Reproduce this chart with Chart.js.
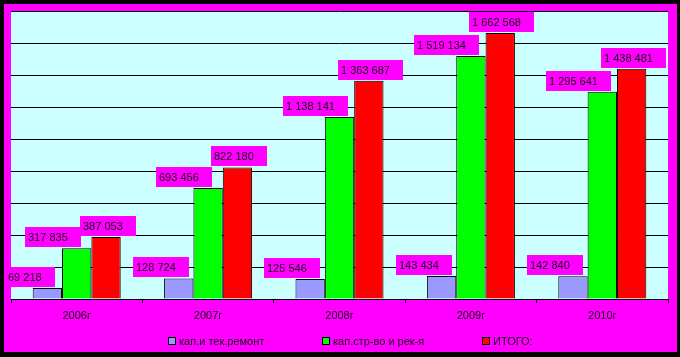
<!DOCTYPE html>
<html>
<head>
<meta charset="utf-8">
<script src="https://cdn.jsdelivr.net/npm/chart.js@4/dist/chart.umd.min.js"></script>
<style>
  html, body { margin: 0; padding: 0; background: #000; }
  #wrap { width: 680px; height: 357px; }
</style>
</head>
<body>
<div id="wrap"><canvas id="c" width="680" height="357"></canvas></div>
<script>
const categories = ["2006г", "2007г", "2008г", "2009г", "2010г"];
const seriesNames = ["кап.и тек.ремонт", "кап.стр-во и рек-я", "ИТОГО:"];
const repairValues = [69218, 128724, 125546, 143434, 142840];
const constructionValues = [317835, 693456, 1138141, 1519134, 1295641];
const totalValues = [387053, 822180, 1363687, 1662568, 1438481];
const yMax = 1800000;
const yStep = 200000;

const colors = ["#9999FF", "#00FF00", "#FF0000"];
const labelShift = [-18, -24, 1.5];
const FONT = "11px 'Liberation Sans', Arial, sans-serif";

function fmt(v) {
  return String(v).replace(/\B(?=(\d{3})+(?!\d))/g, " ");
}

const framePlugin = {
  id: "frame",
  beforeDraw(chart) {
    const ctx = chart.ctx, a = chart.chartArea;
    ctx.save();
    ctx.fillStyle = "#000000";
    ctx.fillRect(0, 0, chart.width, chart.height);
    ctx.fillStyle = "#FF00FF";
    ctx.fillRect(4, 4, 673, 348);
    ctx.fillStyle = "#CCFFFF";
    ctx.fillRect(a.left, a.top, a.right - a.left, a.bottom - a.top);
    ctx.restore();
  }
};

const labelPlugin = {
  id: "boxLabels",
  afterDatasetsDraw(chart) {
    const ctx = chart.ctx;
    ctx.save();
    ctx.font = FONT;
    chart.data.datasets.forEach((ds, di) => {
      const meta = chart.getDatasetMeta(di);
      meta.data.forEach((bar, i) => {
        const txt = fmt(ds.data[i]);
        const w = ctx.measureText(txt).width + 16;
        const h = 20;
        const cx = bar.x + labelShift[di];
        const left = Math.round(cx - w / 2);
        const top = Math.round(bar.y - 1 - h);
        ctx.fillStyle = "#FF00FF";
        ctx.fillRect(left, top, Math.round(w), h);
        ctx.fillStyle = "#111111";
        ctx.textBaseline = "middle";
        ctx.textAlign = "left";
        ctx.fillText(txt, left + 3, top + h / 2 + 1);
      });
    });
    ctx.restore();
  }
};

const legendPlugin = {
  id: "customLegend",
  afterDraw(chart) {
    const ctx = chart.ctx, a = chart.chartArea;
    ctx.save();
    ctx.font = FONT;
    const box = 7, gapText = 4, gapItem = 58;
    const widths = seriesNames.map(n => box + gapText + ctx.measureText(n).width);
    const total = widths.reduce((s, w) => s + w, 0) + gapItem * (widths.length - 1);
    let x = (a.left + a.right) / 2 + 11 - total / 2;
    const y = 337;
    seriesNames.forEach((n, i) => {
      ctx.fillStyle = colors[i];
      ctx.fillRect(Math.round(x) + 0.5, y + 0.5, box, box);
      ctx.strokeStyle = "#000";
      ctx.lineWidth = 1;
      ctx.strokeRect(Math.round(x) + 0.5, y + 0.5, box, box);
      ctx.fillStyle = "#111111";
      ctx.textBaseline = "middle";
      ctx.textAlign = "left";
      ctx.fillText(n, Math.round(x) + box + gapText, y + 4.5);
      x += widths[i] + gapItem;
    });
    ctx.restore();
  }
};

const seriesData = [repairValues, constructionValues, totalValues];

new Chart(document.getElementById("c"), {
  type: "bar",
  data: {
    labels: categories,
    datasets: seriesNames.map((n, i) => ({
      label: n,
      data: seriesData[i],
      backgroundColor: colors[i],
      borderColor: "#000000",
      borderWidth: 1,
      borderSkipped: "bottom",
      categoryPercentage: 0.67,
      barPercentage: 1.0
    }))
  },
  options: {
    responsive: false,
    animation: false,
    devicePixelRatio: 1,
    layout: { padding: { left: 11, top: 11, right: 12, bottom: 0 } },
    plugins: {
      legend: { display: false },
      tooltip: { enabled: false }
    },
    scales: {
      x: {
        offset: true,
        grid: {
          offset: true,
          drawOnChartArea: false,
          drawTicks: true,
          tickLength: 4,
          color: "#000000"
        },
        border: { display: true, color: "#000000", width: 1 },
        ticks: {
          color: "#111111",
          font: { family: "'Liberation Sans', Arial, sans-serif", size: 11 },
          padding: 6,
          maxRotation: 0,
          autoSkip: false
        },
        afterFit(scale) { scale.height = 58; }
      },
      y: {
        min: 0,
        max: yMax,
        ticks: { display: false, stepSize: yStep },
        grid: { color: "#000000", lineWidth: 1, drawTicks: false },
        border: { display: false },
        afterFit(scale) { scale.width = 0; }
      }
    }
  },
  plugins: [framePlugin, labelPlugin, legendPlugin]
});
</script>
</body>
</html>
